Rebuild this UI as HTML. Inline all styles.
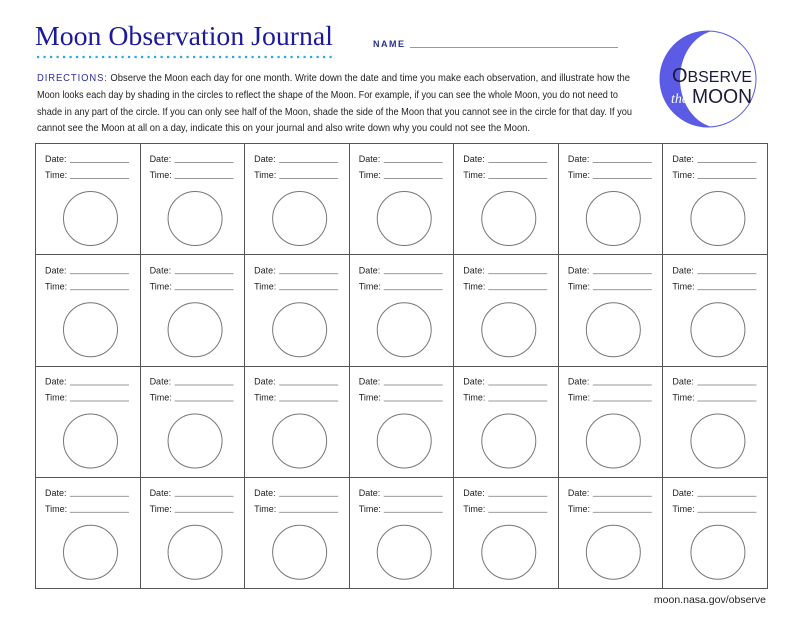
<!DOCTYPE html>
<html><head><meta charset="utf-8"><style>
html,body{margin:0;padding:0;background:#fff;}
body{width:800px;height:618px;position:relative;overflow:hidden;font-family:"Liberation Sans",sans-serif;}
</style></head><body>
<svg width="800" height="618" xmlns="http://www.w3.org/2000/svg" style="position:absolute;left:0;top:0">
<defs><clipPath id="cp"><circle cx="708" cy="79" r="48"/></clipPath></defs>
<text x="35" y="45" font-family="Liberation Serif, serif" font-size="27" fill="#1c1a9c" textLength="298" lengthAdjust="spacingAndGlyphs">Moon Observation Journal</text>
<line x1="37" y1="57" x2="334" y2="57" stroke="#2aa6e8" stroke-width="2.2" stroke-dasharray="2.2,4.3"/>
<text x="373" y="47" font-size="9" letter-spacing="1.5" fill="#2b2f8f" font-weight="bold">NAME</text>
<line x1="410" y1="47.5" x2="618" y2="47.5" stroke="#999" stroke-width="1"/>
<g font-size="10.4" fill="#222">
<text x="37" y="81" textLength="593" lengthAdjust="spacingAndGlyphs"><tspan fill="#2b2f9f" letter-spacing="1">DIRECTIONS:</tspan> Observe the Moon each day for one month. Write down the date and time you make each observation, and illustrate how the</text>
<text x="37" y="98" textLength="581" lengthAdjust="spacingAndGlyphs">Moon looks each day by shading in the circles to reflect the shape of the Moon. For example, if you can see the whole Moon, you do not need to</text>
<text x="37" y="115" textLength="595" lengthAdjust="spacingAndGlyphs">shade in any part of the circle. If you can only see half of the Moon, shade the side of the Moon that you cannot see in the circle for that day. If you</text>
<text x="37" y="131" textLength="493" lengthAdjust="spacingAndGlyphs">cannot see the Moon at all on a day, indicate this on your journal and also write down why you could not see the Moon.</text>
</g>
<circle cx="708" cy="79" r="48" fill="#5b5be6"/>
<ellipse cx="720" cy="79" rx="40" ry="49" fill="#fff" clip-path="url(#cp)"/>
<circle cx="708" cy="79" r="48" fill="none" stroke="#5b5be6" stroke-width="1"/>
<text x="672" y="82" font-size="20" fill="#1a1a3a" textLength="80" lengthAdjust="spacingAndGlyphs">O<tspan font-size="16">BSERVE</tspan></text>
<text x="671" y="103" font-size="14" font-style="italic" font-family="Liberation Serif,serif" fill="#fff">the</text>
<text x="692" y="103" font-size="20" fill="#1a1a3a" textLength="60" lengthAdjust="spacingAndGlyphs">MOON</text>
<g id="grid" stroke="#555" stroke-width="1" fill="none">
<rect x="35.5" y="143.5" width="732" height="445"/>
</g>
<g id="cells"></g>
<text x="766" y="603" font-size="10.5" text-anchor="end" fill="#222">moon.nasa.gov/observe</text>
</svg>
<script>
var g=document.getElementById('grid'),c=document.getElementById('cells'),h='';
for(var i=1;i<7;i++){var x=Math.round(35+i*104.57)+.5;h+='<line x1="'+x+'" y1="143" x2="'+x+'" y2="588"/>';}
for(var j=1;j<4;j++){var y=Math.round(143+j*111.25)+.5;h+='<line x1="35" y1="'+y+'" x2="767" y2="'+y+'"/>';}
g.innerHTML+=h;h='';
for(var j=0;j<4;j++)for(var i=0;i<7;i++){var x=35+i*104.57,y=143+j*111.25;
h+='<text x="'+(x+10)+'" y="'+(y+19)+'" font-size="9" fill="#222">Date:</text>';
h+='<text x="'+(x+10)+'" y="'+(y+35)+'" font-size="9" fill="#222">Time:</text>';
h+='<line x1="'+(x+35)+'" y1="'+(y+19.5)+'" x2="'+(x+94)+'" y2="'+(y+19.5)+'" stroke="#777" stroke-width="0.8"/>';
h+='<line x1="'+(x+35)+'" y1="'+(y+35.5)+'" x2="'+(x+94)+'" y2="'+(y+35.5)+'" stroke="#777" stroke-width="0.8"/>';
h+='<circle cx="'+(x+55.5)+'" cy="'+(y+75.5)+'" r="27" fill="none" stroke="#777" stroke-width="1"/>';}
c.innerHTML=h;
</script>
</body></html>
